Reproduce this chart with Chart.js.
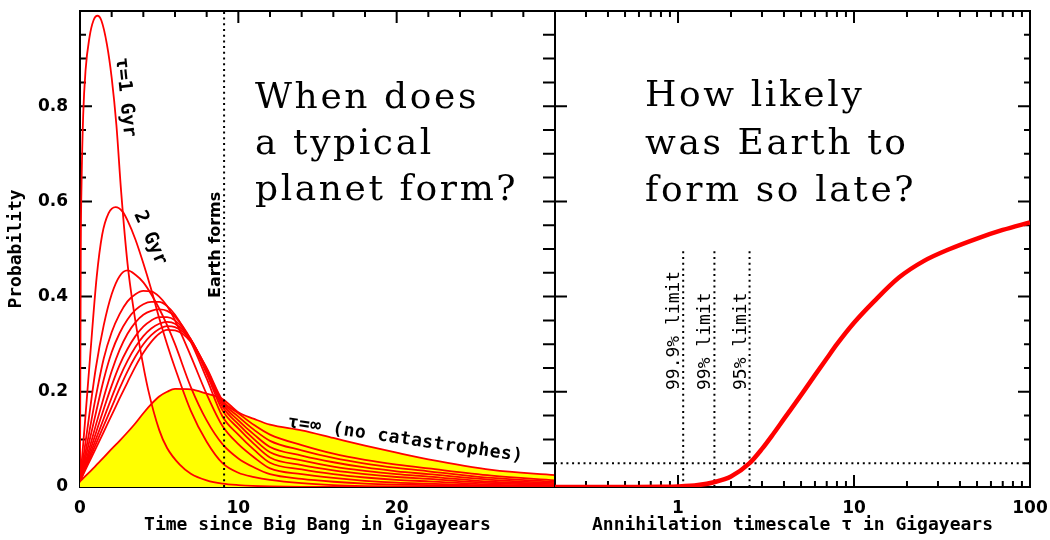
<!DOCTYPE html>
<html><head><meta charset="utf-8">
<script src="https://cdn.jsdelivr.net/npm/chart.js@4"></script>
<style>
html,body{margin:0;padding:0;background:#fff;}
#wrap{position:relative;width:1050px;height:540px;}
canvas{position:absolute;left:0;top:0;}
</style></head><body>
<div id="wrap"><canvas id="left" width="1050" height="540"></canvas><canvas id="right" width="1050" height="540"></canvas></div>
<script>
// ---------- data ----------
const timeGyr = [0,0.5,1,1.5,2,2.5,3,3.5,4,4.5,5,5.5,6,7,8,9,10,11,12,14,16,18,20,22,26,30];
const tauInfProb = [0.012,0.028,0.045,0.062,0.08,0.097,0.115,0.134,0.155,0.174,0.19,0.2,0.206,0.205,0.196,0.185,0.157,0.143,0.131,0.119,0.103,0.087,0.072,0.058,0.036,0.025];
const tau10Prob = [0.012,0.047,0.081,0.116,0.151,0.186,0.22,0.253,0.282,0.305,0.322,0.33,0.329,0.305,0.25,0.182,0.155,0.13,0.11,0.088,0.07,0.057,0.047,0.039,0.024,0.014];
const tau9Prob  = [0.012,0.051,0.09,0.129,0.168,0.207,0.243,0.274,0.3,0.319,0.332,0.338,0.336,0.308,0.248,0.179,0.148,0.12,0.097,0.077,0.061,0.049,0.04,0.033,0.019,0.011];
const tau8Prob  = [0.012,0.056,0.1,0.144,0.188,0.23,0.265,0.294,0.317,0.333,0.343,0.347,0.343,0.31,0.246,0.175,0.14,0.11,0.084,0.066,0.052,0.041,0.033,0.027,0.015,0.008];
const tau7Prob  = [0.012,0.062,0.113,0.164,0.213,0.256,0.29,0.317,0.337,0.35,0.357,0.357,0.35,0.31,0.243,0.169,0.132,0.1,0.073,0.056,0.043,0.034,0.027,0.022,0.011,0.006];
const tau6Prob  = [0.012,0.07,0.13,0.188,0.243,0.288,0.322,0.346,0.362,0.37,0.373,0.37,0.358,0.31,0.238,0.161,0.123,0.09,0.062,0.046,0.035,0.027,0.021,0.017,0.008,0.004];
const tau5Prob  = [0.012,0.083,0.155,0.226,0.283,0.323,0.352,0.372,0.384,0.389,0.389,0.38,0.362,0.305,0.228,0.148,0.11,0.078,0.051,0.037,0.027,0.02,0.015,0.012,0.005,0.002];
const tau4Prob  = [0.012,0.1,0.19,0.27,0.325,0.363,0.39,0.405,0.412,0.411,0.4,0.38,0.35,0.275,0.195,0.128,0.09,0.062,0.039,0.027,0.019,0.013,0.009,0.007,0.003,0.001];
const tau3Prob  = [0.012,0.13,0.25,0.34,0.405,0.443,0.455,0.446,0.43,0.405,0.375,0.34,0.3,0.21,0.14,0.09,0.06,0.041,0.027,0.017,0.011,0.007,0.005,0.004,0.001,0];
const tau2Time  = [0,0.3,0.63,1.05,1.4,1.8,2.25,2.7,3,3.5,4,4.5,5,5.5,6,7,8,9,10,11,12,14,16,18,20,30];
const tau2Prob  = [0.01,0.13,0.27,0.44,0.53,0.575,0.588,0.578,0.56,0.52,0.47,0.415,0.355,0.3,0.25,0.16,0.095,0.05,0.03,0.021,0.015,0.008,0.004,0.002,0.001,0];
const tau1Time  = [0,0.05,0.1,0.2,0.35,0.6,0.85,1.1,1.35,1.7,2,2.3,2.6,3,3.4,3.8,4.3,5,5.5,6.3,7,8,9,10,12,14,30];
const tau1Prob  = [0.01,0.5,0.64,0.78,0.875,0.945,0.98,0.99,0.98,0.93,0.86,0.76,0.62,0.47,0.37,0.29,0.205,0.12,0.082,0.047,0.028,0.014,0.007,0.004,0.001,0,0];

const tauGyr    = [0.2,0.5,0.8,1,1.3,1.6,2,2.55,3,3.5,4,5,6,7,8,10,13,18,25,35,50,70,100];
const probLate  = [0,0,0.0003,0.001,0.004,0.01,0.022,0.05,0.08,0.113,0.143,0.193,0.235,0.27,0.3,0.345,0.39,0.44,0.475,0.5,0.522,0.54,0.556];

const earthFormsGyr = 9.1;
const limitTau = [1.07, 1.61, 2.55];
const limitLabels = ['99.9% limit','99% limit','95% limit'];
const limitTopProb = 0.5;
const limitProb = 0.05;

const leftQuestion = ['When does','a typical','planet form?'];
const rightQuestion = ['How likely','was Earth to','form so late?'];
const xTickLabelsLeft = [0,10,20];
const xTickLabelsRight = [1,10,100];

// ---------- helpers ----------
const pts = (xs, ys) => xs.map((x,i)=>({x, y: ys[i]}));
const red = (xs, ys, extra) => Object.assign({data: pts(xs, ys), borderColor:'#ff0000', borderWidth:1.8, pointRadius:0, fill:false, cubicInterpolationMode:'monotone'}, extra||{});

const probMajor = [0.2,0.4,0.6,0.8];
const probMinor = []; for (let i=1;i<20;i++){ if (i%4) probMinor.push(i*0.05); }
const timeMajor = [10,20];
const timeMinor = []; for (let t=2;t<30;t+=2){ if (t%10) timeMinor.push(t); }
const tauMajor = [1,10,100];
const tauMinor = []; [0.1,1,10].forEach(d=>{ for(let k=2;k<=9;k++){ const v=k*d; if (v>0.2 && v<100) tauMinor.push(v);} });

const tickFont = {family:'DejaVu Sans', weight:'bold', size:17};
const titleFont = {family:'DejaVu Sans Mono', weight:'bold', size:18};
const bigFont = '36px "DejaVu Serif"';

function bigText(ctx, lines, x, ys){
  ctx.save(); ctx.fillStyle='#000'; ctx.font = bigFont; ctx.letterSpacing='2.6px';
  ctx.textAlign='left'; ctx.textBaseline='alphabetic';
  lines.forEach((s,i)=>ctx.fillText(s, x, ys[i]));
  ctx.restore();
}
function rotText(ctx, s, x, y, deg, font, spacing){
  ctx.save(); ctx.translate(x,y); ctx.rotate(deg*Math.PI/180);
  ctx.font = font; ctx.fillStyle='#000'; ctx.textAlign='left'; ctx.textBaseline='alphabetic';
  ctx.letterSpacing = spacing || '0px';
  ctx.fillText(s,0,0); ctx.restore();
}
function noPadX(s){ s.paddingLeft = 0; s.paddingRight = 0; }
function noPadY(s){ s.paddingTop = 0; s.paddingBottom = 0; }

// ---------- left chart ----------
const leftDeco = {
  id:'leftDeco',
  beforeDatasetsDraw(chart){
    const {ctx, chartArea:a, scales:{x,y}} = chart;
    ctx.save(); ctx.strokeStyle='#000'; ctx.lineWidth=2; ctx.beginPath();
    ctx.rect(a.left, a.top, a.right-a.left, a.bottom-a.top);
    timeMajor.forEach(v=>{const p=x.getPixelForValue(v); ctx.moveTo(p,a.bottom); ctx.lineTo(p,a.bottom-12); ctx.moveTo(p,a.top); ctx.lineTo(p,a.top+12);});
    timeMinor.forEach(v=>{const p=x.getPixelForValue(v); ctx.moveTo(p,a.bottom); ctx.lineTo(p,a.bottom-6); ctx.moveTo(p,a.top); ctx.lineTo(p,a.top+6);});
    probMajor.forEach(v=>{const p=y.getPixelForValue(v); ctx.moveTo(a.left,p); ctx.lineTo(a.left+12,p); ctx.moveTo(a.right,p); ctx.lineTo(a.right-12,p);});
    probMinor.forEach(v=>{const p=y.getPixelForValue(v); ctx.moveTo(a.left,p); ctx.lineTo(a.left+6,p); ctx.moveTo(a.right,p); ctx.lineTo(a.right-12,p);});
    ctx.stroke(); ctx.restore();
  },
  afterDatasetsDraw(chart){
    const {ctx, chartArea:a, scales:{x,y}} = chart;
    ctx.save(); ctx.strokeStyle='#000'; ctx.lineWidth=2; ctx.setLineDash([2,3.7]);
    const px = x.getPixelForValue(earthFormsGyr);
    ctx.beginPath(); ctx.moveTo(px, a.bottom); ctx.lineTo(px, a.top); ctx.stroke(); ctx.restore();
    bigText(ctx, leftQuestion, 255, [108,153.5,200]);
    rotText(ctx, 'Earth forms', px-4, 298, -90, 'bold 16px "DejaVu Sans"');
    rotText(ctx, 'τ=1 Gyr', 116, 58, 84, 'bold 19px "DejaVu Sans Mono"');
    rotText(ctx, '2 Gyr', 134, 214, 66, 'bold 19px "DejaVu Sans Mono"');
    rotText(ctx, 'τ=∞ (no catastrophes)', 287, 427, 8.3, 'bold 18px "DejaVu Sans Mono"', '0.5px');
  }
};

new Chart(document.getElementById('left'), {
  type:'line',
  data:{datasets:[
    red(tau1Time, tau1Prob), red(tau2Time, tau2Prob),
    red(timeGyr, tau3Prob), red(timeGyr, tau4Prob), red(timeGyr, tau5Prob), red(timeGyr, tau6Prob),
    red(timeGyr, tau7Prob), red(timeGyr, tau8Prob), red(timeGyr, tau9Prob), red(timeGyr, tau10Prob),
    red(timeGyr, tauInfProb, {fill:'origin', backgroundColor:'#ffff00'})
  ]},
  options:{
    responsive:false, animation:false, devicePixelRatio:1,
    layout:{padding:{left:0,right:495,top:11,bottom:0}},
    plugins:{legend:{display:false}, tooltip:{enabled:false}},
    scales:{
      x:{type:'linear', min:0, max:30,
         grid:{display:false, drawTicks:false}, border:{display:false},
         afterBuildTicks(s){ s.ticks = xTickLabelsLeft.map(v=>({value:v})); },
         ticks:{autoSkip:false, maxRotation:0, padding:11, color:'#000', font:tickFont},
         title:{display:true, text:'Time since Big Bang in Gigayears', color:'#000', font:titleFont, padding:{top:0,bottom:4}},
         afterFit(s){ s.height = 53; noPadX(s); }},
      y:{min:0, max:1,
         grid:{display:false, drawTicks:false}, border:{display:false},
         afterBuildTicks(s){ s.ticks = [0].concat(probMajor).map(v=>({value:v})); },
         ticks:{autoSkip:false, padding:12, color:'#000', font:tickFont, callback:v=>String(Math.round(v*10)/10)},
         title:{display:true, text:'Probability', color:'#000', font:titleFont, padding:{top:6,bottom:0}},
         afterFit(s){ s.width = 80; noPadY(s); }}
    }
  },
  plugins:[leftDeco]
});

// ---------- right chart ----------
const rightDeco = {
  id:'rightDeco',
  beforeDatasetsDraw(chart){
    const {ctx, chartArea:a, scales:{x,y}} = chart;
    ctx.save(); ctx.strokeStyle='#000'; ctx.lineWidth=2; ctx.beginPath();
    ctx.rect(a.left, a.top, a.right-a.left, a.bottom-a.top);
    tauMajor.forEach(v=>{const p=x.getPixelForValue(v); ctx.moveTo(p,a.bottom); ctx.lineTo(p,a.bottom-12); ctx.moveTo(p,a.top); ctx.lineTo(p,a.top+12);});
    tauMinor.forEach(v=>{const p=x.getPixelForValue(v); ctx.moveTo(p,a.bottom); ctx.lineTo(p,a.bottom-6); ctx.moveTo(p,a.top); ctx.lineTo(p,a.top+6);});
    probMajor.forEach(v=>{const p=y.getPixelForValue(v); ctx.moveTo(a.left,p); ctx.lineTo(a.left+12,p); ctx.moveTo(a.right,p); ctx.lineTo(a.right-12,p);});
    probMinor.forEach(v=>{const p=y.getPixelForValue(v); ctx.moveTo(a.right,p); ctx.lineTo(a.right-6,p);});
    ctx.stroke();
    ctx.setLineDash([2,3.7]); ctx.beginPath();
    const hy = y.getPixelForValue(limitProb);
    ctx.moveTo(a.left, hy); ctx.lineTo(a.right, hy);
    limitTau.forEach(v=>{const p=x.getPixelForValue(v); ctx.moveTo(p, a.bottom); ctx.lineTo(p, y.getPixelForValue(limitTopProb));});
    ctx.stroke(); ctx.restore();
  },
  afterDatasetsDraw(chart){
    const {ctx, scales:{x}} = chart;
    bigText(ctx, rightQuestion, 645, [106,153.5,201]);
    limitTau.forEach((v,i)=>rotText(ctx, limitLabels[i], x.getPixelForValue(v)-4, 390, -90, '18px "DejaVu Sans Mono"'));
  }
};

new Chart(document.getElementById('right'), {
  type:'line',
  data:{datasets:[ red(tauGyr, probLate, {borderWidth:4.5}) ]},
  options:{
    responsive:false, animation:false, devicePixelRatio:1,
    layout:{padding:{left:555,right:20,top:11,bottom:0}},
    plugins:{legend:{display:false}, tooltip:{enabled:false}},
    scales:{
      x:{type:'logarithmic', min:0.2, max:100,
         grid:{display:false, drawTicks:false}, border:{display:false},
         afterBuildTicks(s){ s.ticks = xTickLabelsRight.map(v=>({value:v})); },
         ticks:{autoSkip:false, maxRotation:0, padding:11, color:'#000', font:tickFont, callback:v=>String(v)},
         title:{display:true, text:'Annihilation timescale τ in Gigayears', color:'#000', font:titleFont, padding:{top:0,bottom:4}},
         afterFit(s){ s.height = 53; noPadX(s); }},
      y:{display:false, min:0, max:1}
    }
  },
  plugins:[rightDeco]
});
</script>
</body></html>
